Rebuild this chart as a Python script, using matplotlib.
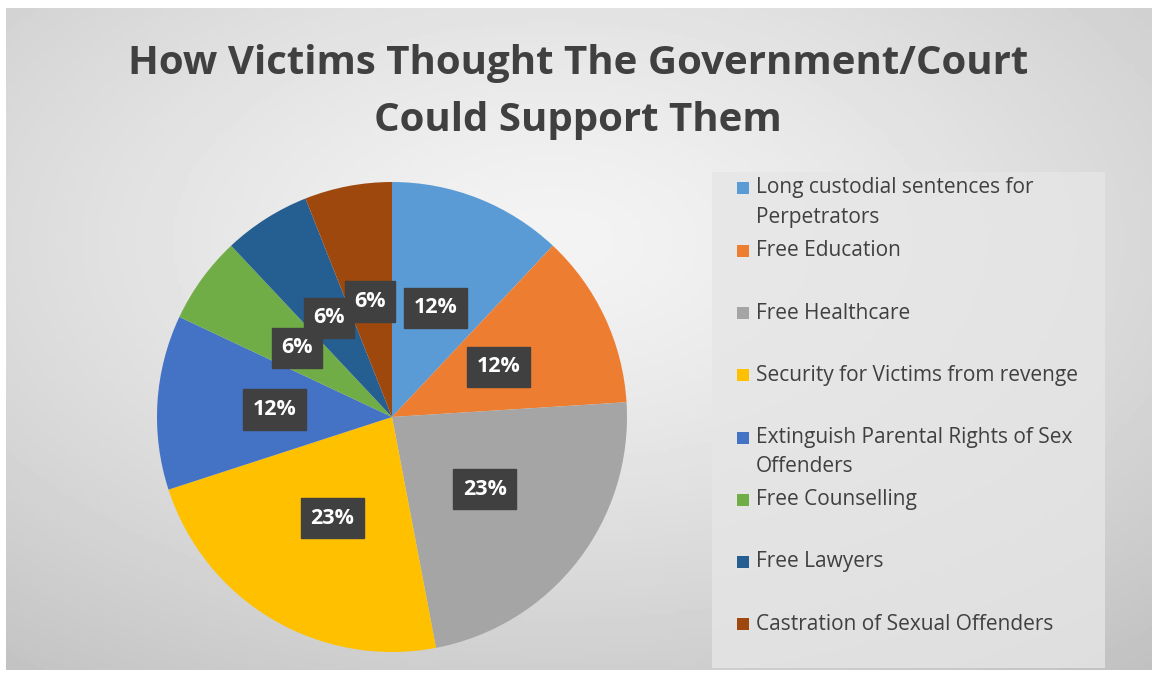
import numpy as np
import matplotlib.pyplot as plt
from matplotlib.patches import Rectangle

categories = [
    "Long custodial sentences for\nPerpetrators",
    "Free Education",
    "Free Healthcare",
    "Security for Victims from revenge",
    "Extinguish Parental Rights of Sex\nOffenders",
    "Free Counselling",
    "Free Lawyers",
    "Castration of Sexual Offenders",
]
shares = [12, 12, 23, 23, 12, 6, 6, 6]
colors = ["#5B9BD5", "#ED7D31", "#A5A5A5", "#FFC000",
          "#4472C4", "#70AD47", "#255E91", "#9E480E"]

title = "How Victims Thought The Government/Court\nCould Support Them"

W, H = 1152, 677
fig = plt.figure(figsize=(W / 100, H / 100), dpi=100)
fig.patch.set_facecolor("white")

# radial grey gradient background of the chart area
bg = fig.add_axes([6 / W, (H - 670) / H, (W - 6) / W, (670 - 8) / H])
yy, xx = np.mgrid[0:200, 0:300]
cx, cy = 150 * 0.95, 200 * 0.35
d = np.sqrt(((xx - cx) / 300) ** 2 + ((yy - cy) / 200) ** 2)
d = d / d.max()
shade = 0.955 - 0.20 * d ** 1.3
bg.imshow(shade, cmap="gray", vmin=0, vmax=1, aspect="auto",
          extent=[0, 1, 0, 1], origin="upper")
bg.set_axis_off()

fig.text(578 / W, 1 - 92 / H, title, ha="center", va="center",
         fontsize=29, fontweight="bold", color="#404040",
         family="Open Sans", linespacing=1.6)

# pie
cxp, cyp, r = 392, 417, 235
ax = fig.add_axes([(cxp - r) / W, (H - cyp - r) / H, 2 * r / W, 2 * r / H])
wedges, texts, autotexts = ax.pie(
    shares,
    colors=colors,
    startangle=90,
    counterclock=False,
    autopct="%.0f%%",
    pctdistance=0.5,
    wedgeprops=dict(linewidth=0),
)
for t in autotexts:
    t.set_color("white")
    t.set_fontsize(15.5)
    t.set_fontweight("bold")
    t.set_family("Open Sans")
    t.set_bbox(dict(boxstyle="square,pad=0.45", facecolor="#404040",
                    edgecolor="#404040"))
ax.set_xlim(-1, 1)
ax.set_ylim(-1, 1)
ax.set_aspect("equal")

# legend box
fig.patches.append(Rectangle((712 / W, (H - 668) / H), (1105 - 712) / W,
                             (668 - 172) / H, transform=fig.transFigure,
                             facecolor="#e6e6e6", edgecolor="none",
                             alpha=0.8, zorder=1))
ys = [188] + [251 + 62.2 * k for k in range(7)]
for label, col, y in zip(categories, colors, ys):
    fig.patches.append(Rectangle((737 / W, (H - y - 6) / H), 12 / W, 12 / H,
                                 transform=fig.transFigure, facecolor=col,
                                 edgecolor="none", zorder=2))
    for i, line in enumerate(label.split("\n")):
        fig.text(756 / W, 1 - (y + 29 * i) / H, line, ha="left",
                 va="center", fontsize=15, color="#404040",
                 family="Open Sans")

fig.savefig("out.png", dpi=100)
